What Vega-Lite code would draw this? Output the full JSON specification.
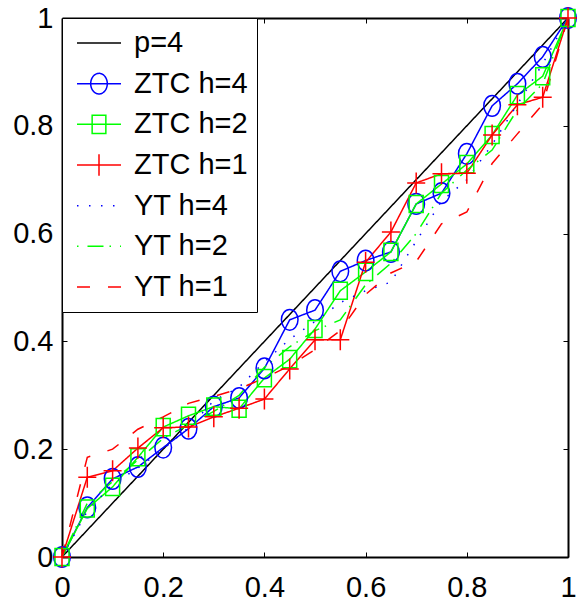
{
  "$schema": "https://vega.github.io/schema/vega-lite/v6.json",
  "width": 506,
  "height": 539,
  "autosize": {"type": "none"},
  "padding": {"left": 62, "top": 18, "right": 20, "bottom": 57},
  "background": "white",
  "config": {
    "view": {"stroke": null},
    "font": "Liberation Sans",
    "legend": {"symbolFillColor": "transparent"}
  },
  "data": {
    "values": [
      {"series": "p=4", "x": 0, "y": 0}, {"series": "p=4", "x": 1, "y": 1},
      {"series": "ZTC h=4", "x": 0, "y": 0}, {"series": "ZTC h=4", "x": 0.05, "y": 0.092}, {"series": "ZTC h=4", "x": 0.1, "y": 0.145}, {"series": "ZTC h=4", "x": 0.15, "y": 0.167}, {"series": "ZTC h=4", "x": 0.2, "y": 0.203}, {"series": "ZTC h=4", "x": 0.25, "y": 0.238}, {"series": "ZTC h=4", "x": 0.3, "y": 0.279}, {"series": "ZTC h=4", "x": 0.35, "y": 0.295}, {"series": "ZTC h=4", "x": 0.4, "y": 0.35}, {"series": "ZTC h=4", "x": 0.45, "y": 0.44}, {"series": "ZTC h=4", "x": 0.5, "y": 0.458}, {"series": "ZTC h=4", "x": 0.55, "y": 0.53}, {"series": "ZTC h=4", "x": 0.6, "y": 0.55}, {"series": "ZTC h=4", "x": 0.65, "y": 0.566}, {"series": "ZTC h=4", "x": 0.7, "y": 0.655}, {"series": "ZTC h=4", "x": 0.75, "y": 0.675}, {"series": "ZTC h=4", "x": 0.8, "y": 0.748}, {"series": "ZTC h=4", "x": 0.85, "y": 0.837}, {"series": "ZTC h=4", "x": 0.9, "y": 0.878}, {"series": "ZTC h=4", "x": 0.95, "y": 0.928}, {"series": "ZTC h=4", "x": 1, "y": 1},
      {"series": "ZTC h=2", "x": 0, "y": 0}, {"series": "ZTC h=2", "x": 0.05, "y": 0.09}, {"series": "ZTC h=2", "x": 0.1, "y": 0.13}, {"series": "ZTC h=2", "x": 0.15, "y": 0.185}, {"series": "ZTC h=2", "x": 0.2, "y": 0.241}, {"series": "ZTC h=2", "x": 0.25, "y": 0.262}, {"series": "ZTC h=2", "x": 0.3, "y": 0.279}, {"series": "ZTC h=2", "x": 0.35, "y": 0.275}, {"series": "ZTC h=2", "x": 0.4, "y": 0.332}, {"series": "ZTC h=2", "x": 0.45, "y": 0.367}, {"series": "ZTC h=2", "x": 0.5, "y": 0.423}, {"series": "ZTC h=2", "x": 0.55, "y": 0.494}, {"series": "ZTC h=2", "x": 0.6, "y": 0.529}, {"series": "ZTC h=2", "x": 0.65, "y": 0.566}, {"series": "ZTC h=2", "x": 0.7, "y": 0.655}, {"series": "ZTC h=2", "x": 0.75, "y": 0.692}, {"series": "ZTC h=2", "x": 0.8, "y": 0.729}, {"series": "ZTC h=2", "x": 0.85, "y": 0.783}, {"series": "ZTC h=2", "x": 0.9, "y": 0.857}, {"series": "ZTC h=2", "x": 0.95, "y": 0.892}, {"series": "ZTC h=2", "x": 1, "y": 1},
      {"series": "ZTC h=1", "x": 0, "y": 0}, {"series": "ZTC h=1", "x": 0.05, "y": 0.148}, {"series": "ZTC h=1", "x": 0.1, "y": 0.16}, {"series": "ZTC h=1", "x": 0.15, "y": 0.202}, {"series": "ZTC h=1", "x": 0.2, "y": 0.24}, {"series": "ZTC h=1", "x": 0.25, "y": 0.241}, {"series": "ZTC h=1", "x": 0.3, "y": 0.26}, {"series": "ZTC h=1", "x": 0.35, "y": 0.276}, {"series": "ZTC h=1", "x": 0.4, "y": 0.293}, {"series": "ZTC h=1", "x": 0.45, "y": 0.349}, {"series": "ZTC h=1", "x": 0.5, "y": 0.403}, {"series": "ZTC h=1", "x": 0.55, "y": 0.403}, {"series": "ZTC h=1", "x": 0.6, "y": 0.547}, {"series": "ZTC h=1", "x": 0.65, "y": 0.603}, {"series": "ZTC h=1", "x": 0.7, "y": 0.694}, {"series": "ZTC h=1", "x": 0.75, "y": 0.711}, {"series": "ZTC h=1", "x": 0.8, "y": 0.712}, {"series": "ZTC h=1", "x": 0.85, "y": 0.783}, {"series": "ZTC h=1", "x": 0.9, "y": 0.839}, {"series": "ZTC h=1", "x": 0.95, "y": 0.853}, {"series": "ZTC h=1", "x": 1, "y": 1},
      {"series": "YT h=4", "x": 0, "y": 0}, {"series": "YT h=4", "x": 0.05, "y": 0.085}, {"series": "YT h=4", "x": 0.1, "y": 0.135}, {"series": "YT h=4", "x": 0.15, "y": 0.165}, {"series": "YT h=4", "x": 0.2, "y": 0.2}, {"series": "YT h=4", "x": 0.25, "y": 0.24}, {"series": "YT h=4", "x": 0.3, "y": 0.29}, {"series": "YT h=4", "x": 0.35, "y": 0.315}, {"series": "YT h=4", "x": 0.4, "y": 0.362}, {"series": "YT h=4", "x": 0.45, "y": 0.404}, {"series": "YT h=4", "x": 0.5, "y": 0.437}, {"series": "YT h=4", "x": 0.55, "y": 0.472}, {"series": "YT h=4", "x": 0.6, "y": 0.494}, {"series": "YT h=4", "x": 0.65, "y": 0.51}, {"series": "YT h=4", "x": 0.7, "y": 0.586}, {"series": "YT h=4", "x": 0.75, "y": 0.66}, {"series": "YT h=4", "x": 0.8, "y": 0.7}, {"series": "YT h=4", "x": 0.85, "y": 0.765}, {"series": "YT h=4", "x": 0.9, "y": 0.84}, {"series": "YT h=4", "x": 0.95, "y": 0.915}, {"series": "YT h=4", "x": 1, "y": 1},
      {"series": "YT h=2", "x": 0, "y": 0}, {"series": "YT h=2", "x": 0.05, "y": 0.1}, {"series": "YT h=2", "x": 0.1, "y": 0.14}, {"series": "YT h=2", "x": 0.15, "y": 0.18}, {"series": "YT h=2", "x": 0.2, "y": 0.22}, {"series": "YT h=2", "x": 0.25, "y": 0.245}, {"series": "YT h=2", "x": 0.3, "y": 0.27}, {"series": "YT h=2", "x": 0.35, "y": 0.3}, {"series": "YT h=2", "x": 0.4, "y": 0.352}, {"series": "YT h=2", "x": 0.45, "y": 0.39}, {"series": "YT h=2", "x": 0.5, "y": 0.42}, {"series": "YT h=2", "x": 0.55, "y": 0.44}, {"series": "YT h=2", "x": 0.6, "y": 0.505}, {"series": "YT h=2", "x": 0.65, "y": 0.545}, {"series": "YT h=2", "x": 0.7, "y": 0.6}, {"series": "YT h=2", "x": 0.75, "y": 0.675}, {"series": "YT h=2", "x": 0.8, "y": 0.718}, {"series": "YT h=2", "x": 0.85, "y": 0.755}, {"series": "YT h=2", "x": 0.9, "y": 0.83}, {"series": "YT h=2", "x": 0.95, "y": 0.878}, {"series": "YT h=2", "x": 1, "y": 1},
      {"series": "YT h=1", "x": 0, "y": 0}, {"series": "YT h=1", "x": 0.05, "y": 0.185}, {"series": "YT h=1", "x": 0.1, "y": 0.2}, {"series": "YT h=1", "x": 0.15, "y": 0.237}, {"series": "YT h=1", "x": 0.2, "y": 0.26}, {"series": "YT h=1", "x": 0.25, "y": 0.285}, {"series": "YT h=1", "x": 0.3, "y": 0.298}, {"series": "YT h=1", "x": 0.35, "y": 0.312}, {"series": "YT h=1", "x": 0.4, "y": 0.332}, {"series": "YT h=1", "x": 0.45, "y": 0.355}, {"series": "YT h=1", "x": 0.5, "y": 0.385}, {"series": "YT h=1", "x": 0.55, "y": 0.42}, {"series": "YT h=1", "x": 0.6, "y": 0.487}, {"series": "YT h=1", "x": 0.65, "y": 0.527}, {"series": "YT h=1", "x": 0.7, "y": 0.548}, {"series": "YT h=1", "x": 0.75, "y": 0.618}, {"series": "YT h=1", "x": 0.8, "y": 0.64}, {"series": "YT h=1", "x": 0.85, "y": 0.73}, {"series": "YT h=1", "x": 0.9, "y": 0.785}, {"series": "YT h=1", "x": 0.95, "y": 0.84}, {"series": "YT h=1", "x": 1, "y": 1}
    ]
  },
  "layer": [
    {
      "mark": {"type": "line", "strokeWidth": 1.5},
      "encoding": {
        "x": {"field": "x", "type": "quantitative", "scale": {"domain": [0, 1], "nice": false, "zero": false},
          "axis": {"orient": "bottom", "values": [0, 0.2, 0.4, 0.6, 0.8, 1], "format": "~g", "title": null, "grid": false,
            "domainColor": "black", "domainWidth": 2, "tickColor": "black", "tickWidth": 1, "tickSize": -5,
            "labelFontSize": 29, "labelFont": "Liberation Sans", "labelColor": "black", "labelPadding": 21, "labelFlush": false, "labelOverlap": false}},
        "y": {"field": "y", "type": "quantitative", "scale": {"domain": [0, 1], "nice": false, "zero": false},
          "axis": {"orient": "left", "values": [0, 0.2, 0.4, 0.6, 0.8, 1], "format": "~g", "title": null, "grid": false,
            "domainColor": "black", "domainWidth": 2, "tickColor": "black", "tickWidth": 1, "tickSize": -5,
            "labelFontSize": 29, "labelFont": "Liberation Sans", "labelColor": "black", "labelPadding": 14, "labelFlush": false, "labelOverlap": false}},
        "color": {"field": "series", "type": "nominal",
          "scale": {"domain": ["p=4", "ZTC h=4", "ZTC h=2", "ZTC h=1", "YT h=4", "YT h=2", "YT h=1"],
            "range": ["#000000", "#0000ff", "#00ff00", "#ff0000", "#0000ff", "#00ff00", "#ff0000"]},
          "legend": {"title": null, "orient": "top-left", "offset": 0, "padding": 9, "rowPadding": 9.67,
            "fillColor": "white", "strokeColor": "black", "symbolSize": 900, "symbolStrokeWidth": 1.5,
            "symbolOffset": 12, "labelOffset": 19, "labelFontSize": 29, "labelFont": "Liberation Sans",
            "labelColor": "black", "labelLimit": 300, "symbolFillColor": "transparent",
            "encode": {"legend": {"strokeWidth": {"value": 2}}}}},
        "strokeDash": {"field": "series", "type": "nominal",
          "scale": {"domain": ["p=4", "ZTC h=4", "ZTC h=2", "ZTC h=1", "YT h=4", "YT h=2", "YT h=1"],
            "range": [[1, 0], [1, 0], [1, 0], [1, 0], [1.5, 10.5], [1.5, 9, 16, 6], [13, 18]]},
          "legend": {"title": null}}
      }
    },
    {
      "transform": [{"filter": "datum.x > 1"}],
      "mark": {"type": "point", "filled": false, "color": "black"},
      "encoding": {
        "shape": {"field": "series", "type": "nominal",
          "scale": {"domain": ["p=4", "ZTC h=4", "ZTC h=2", "ZTC h=1", "YT h=4", "YT h=2", "YT h=1"],
            "range": [
              "M-1.467,0H1.467",
              "M-1.467,0H1.467M0.553,0A0.553,0.687,0,1,1,-0.553,0A0.553,0.687,0,1,1,0.553,0",
              "M-1.467,0H1.467M-0.457,-0.61H0.457V0.61H-0.457Z",
              "M-1.467,0H1.467M0,-0.72V0.72",
              "M-1.467,0H1.467",
              "M-1.467,0H1.467",
              "M-1.467,0H1.467"]},
          "legend": {"title": null}}
      }
    },
    {
      "transform": [{"filter": {"field": "series", "equal": "ZTC h=4"}}],
      "mark": {"type": "point", "filled": false, "color": "#0000ff", "strokeWidth": 1.5, "opacity": 1, "size": 484,
        "shape": "M0.755,0A0.755,0.94,0,1,1,-0.755,0A0.755,0.94,0,1,1,0.755,0"},
      "encoding": {
        "x": {"field": "x", "type": "quantitative",
          "axis": {"orient": "top", "values": [0, 0.2, 0.4, 0.6, 0.8, 1], "labels": false, "title": null, "grid": false,
            "domainColor": "black", "domainWidth": 2, "tickColor": "black", "tickWidth": 1, "tickSize": -5}},
        "y": {"field": "y", "type": "quantitative",
          "axis": {"orient": "right", "values": [0, 0.2, 0.4, 0.6, 0.8, 1], "labels": false, "title": null, "grid": false,
            "domainColor": "black", "domainWidth": 2, "tickColor": "black", "tickWidth": 1, "tickSize": -5}}
      }
    },
    {
      "transform": [{"filter": {"field": "series", "equal": "ZTC h=2"}}],
      "mark": {"type": "point", "filled": false, "color": "#00ff00", "strokeWidth": 1.5, "opacity": 1, "size": 484,
        "shape": "M-0.636,-0.78H0.636V0.78H-0.636Z"},
      "encoding": {
        "x": {"field": "x", "type": "quantitative", "axis": null},
        "y": {"field": "y", "type": "quantitative", "axis": null}
      }
    },
    {
      "transform": [{"filter": {"field": "series", "equal": "ZTC h=1"}}],
      "mark": {"type": "point", "filled": false, "color": "#ff0000", "strokeWidth": 1.5, "opacity": 1, "size": 484,
        "shape": "M-0.82,0H0.82M0,-0.955V0.955"},
      "encoding": {
        "x": {"field": "x", "type": "quantitative", "axis": null},
        "y": {"field": "y", "type": "quantitative", "axis": null}
      }
    }
  ]
}
